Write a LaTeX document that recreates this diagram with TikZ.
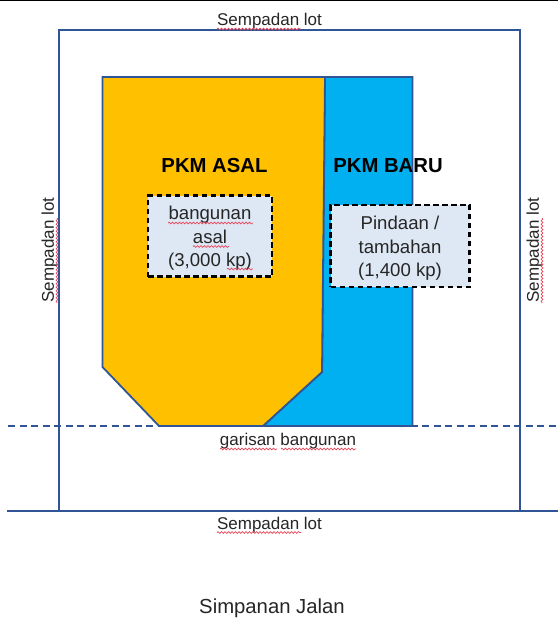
\documentclass[tikz,border=0pt]{standalone}
\usepackage{fontspec}
\setmainfont{Liberation Sans}
\usetikzlibrary{decorations.pathmorphing}
\definecolor{edgeblue}{HTML}{2F5597}
\definecolor{bldorange}{HTML}{FFC000}
\definecolor{bldblue}{HTML}{00B0F0}
\definecolor{boxfill}{HTML}{DEE8F4}
\definecolor{txt}{HTML}{262626}
\definecolor{squig}{HTML}{E8485A}
\tikzset{
  x=1pt,y=-1pt,
  bline/.style={draw=edgeblue,line width=2pt},
  sline/.style={draw=edgeblue,line width=1.8pt,line join=miter},
  lbl/.style={inner sep=0pt,text=txt,font=\fontsize{17}{19}\selectfont},
  head/.style={inner sep=0pt,text=black,font=\fontsize{20.3}{24}\selectfont\bfseries},
  dbox/.style={draw=black,fill=boxfill,line width=2.2pt,dash pattern=on 5.5pt off 3.5pt,inner sep=0pt,outer sep=0pt,anchor=north west,align=center,text=txt,font=\fontsize{18.6}{23.5}\selectfont},
  wavy/.style={draw=squig,line width=.7pt,decorate,decoration={snake,amplitude=.9pt,segment length=3.5pt}}
}
\begin{document}
\begin{tikzpicture}
\useasboundingbox (0,0) rectangle (558,619);
\fill[white] (0,0) rectangle (558,619);
\draw[black,line width=1.6pt] (0,0.5) -- (558,0.5);
% lot boundary
\draw[bline] (58.5,510) -- (58.5,30) -- (520,30) -- (520,510);
\draw[bline] (7,510.5) -- (558,510.5);
\draw[edgeblue,line width=1.7pt,dash pattern=on 7pt off 4.5pt] (8,426) -- (558,426);
% buildings
\draw[sline,fill=bldblue] (325,77) -- (412.5,77) -- (412.5,426) -- (263,426) -- (322,372) -- cycle;
\draw[sline,fill=bldorange] (102.5,77) -- (325,77) -- (322,372) -- (263,426) -- (159,426) -- (102.5,367) -- cycle;
% headings
\node[head] (asal) at (214.5,165.5) {PKM ASAL};
\node[head] (baru) at (388,165.5) {PKM BARU};
% boxes
\node[dbox,minimum width=124pt,minimum height=81pt] (b1) at (148,195.5) {\rule{0pt}{18.5pt}bangunan\\asal\\(3,000 kp)};
\node[dbox,minimum width=139pt,minimum height=82pt] (b2) at (330.5,205) {\rule{0pt}{18.5pt}Pindaan /\\tambahan\\(1,400 kp)};
% labels
\node[lbl] (top) at (269.5,21.5) {Sempadan lot};
\node[lbl] (bot) at (269.5,525) {Sempadan lot};
\node[lbl,rotate=90] (lft) at (49.5,250) {Sempadan lot};
\node[lbl,rotate=90] (rgt) at (534.5,250) {Sempadan lot};
\node[lbl] (gar) at (288,441.5) {garisan bangunan};
\node[inner sep=0pt,text=txt,font=\fontsize{20.3}{22}\selectfont] (sj) at (272,608.5) {Simpanan Jalan};
% spelling squiggles
\draw[wavy] (217,29) -- (301,29);
\draw[wavy] (217,532.5) -- (301,532.5);
\draw[wavy] (220,449) -- (277,449);
\draw[wavy] (281,449) -- (356,449);
\draw[wavy] (57,218) -- (57,303);
\draw[wavy] (542,218) -- (542,303);
\draw[wavy] (168,223) -- (253,223);
\draw[wavy] (193,246.5) -- (229,246.5);
\draw[wavy] (227,269) -- (253,269);
\end{tikzpicture}
\end{document}
